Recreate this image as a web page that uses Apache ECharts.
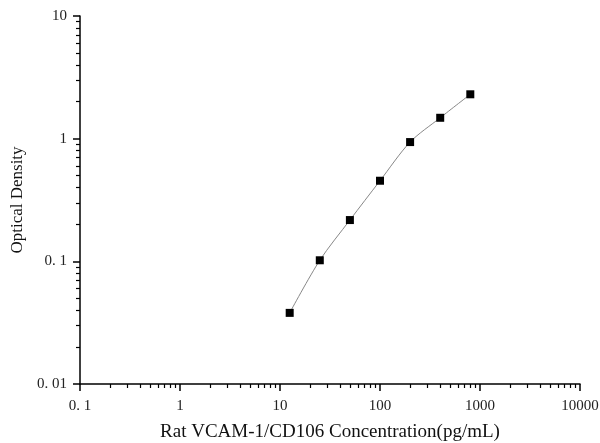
<!DOCTYPE html>
<html>
<head>
<meta charset="utf-8">
<script src="https://cdn.jsdelivr.net/npm/echarts@6/dist/echarts.min.js"></script>
<style>html,body{margin:0;padding:0;background:#fff}#c{width:600px;height:443px}</style>
</head>
<body>
<div id="c"></div>
<script>
var concentrations = [12.5, 25, 50, 100, 200, 400, 800];
var odValues = [0.038, 0.102, 0.217, 0.454, 0.938, 1.48, 2.30];
var xMajorTicks = [0.1, 1, 10, 100, 1000, 10000];
var xTickLabels = ['0. 1', '1', '10', '100', '1000', '10000'];
var yMajorTicks = [0.01, 0.1, 1, 10];
var yTickLabels = ['0. 01', '0. 1', '1', '10'];
var mantissas = [2, 3, 4, 5, 6, 7, 8, 9];

function minorTicks(majors) {
  var out = [];
  for (var i = 0; i < majors.length - 1; i++) {
    for (var j = 0; j < mantissas.length; j++) out.push(majors[i] * mantissas[j]);
  }
  return out;
}
function labelFor(values, labels) {
  return function (v) {
    for (var i = 0; i < values.length; i++) {
      if (Math.abs(Math.log10(v) - Math.log10(values[i])) < 1e-6) return labels[i];
    }
    return '';
  };
}

var font = 'Liberation Serif';
var chart = echarts.init(document.getElementById('c'));
var axisCommon = {
  type: 'log', logBase: 10,
  splitLine: { show: false },
  axisLine: { show: true, onZero: false, lineStyle: { color: '#000', width: 1.5 } }
};
chart.setOption({
  animation: false,
  backgroundColor: '#fff',
  grid: { left: 80, right: 20, top: 16, bottom: 59, containLabel: false, outerBoundsMode: 'none' },
  xAxis: [
    Object.assign({}, axisCommon, {
      position: 'bottom',
      min: 0.1, max: 10000,
      name: 'Rat VCAM-1/CD106 Concentration(pg/mL)',
      nameLocation: 'middle', nameGap: 39,
      nameTextStyle: { fontFamily: font, fontSize: 19, color: '#111' },
      axisTick: { show: true, length: 7, lineStyle: { color: '#000', width: 1.5 }, customValues: xMajorTicks },
      axisLabel: { fontFamily: font, fontSize: 15, color: '#222', margin: 15,
        customValues: xMajorTicks, formatter: labelFor(xMajorTicks, xTickLabels) }
    }),
    Object.assign({}, axisCommon, {
      position: 'bottom',
      min: 0.1, max: 10000,
      axisLine: { show: false },
      axisTick: { show: true, length: 4, lineStyle: { color: '#000', width: 1.2 }, customValues: minorTicks(xMajorTicks) },
      axisLabel: { show: false }
    })
  ],
  yAxis: [
    Object.assign({}, axisCommon, {
      position: 'left',
      min: 0.01, max: 10,
      name: 'Optical Density',
      nameLocation: 'middle', nameGap: 49,
      nameTextStyle: { fontFamily: font, fontSize: 17, color: '#111' },
      axisTick: { show: true, length: 7, lineStyle: { color: '#000', width: 1.5 }, customValues: yMajorTicks },
      axisLabel: { fontFamily: font, fontSize: 15, color: '#222', margin: 13,
        customValues: yMajorTicks, formatter: labelFor(yMajorTicks, yTickLabels) }
    }),
    Object.assign({}, axisCommon, {
      position: 'left',
      min: 0.01, max: 10,
      axisLine: { show: false },
      axisTick: { show: true, length: 4, lineStyle: { color: '#000', width: 1.2 }, customValues: minorTicks(yMajorTicks) },
      axisLabel: { show: false }
    })
  ],
  series: [{
    type: 'line',
    xAxisIndex: 0, yAxisIndex: 0,
    data: concentrations.map(function (c, i) { return [c, odValues[i]]; }),
    smooth: 0.3,
    symbol: 'rect', symbolSize: 8,
    itemStyle: { color: '#000' },
    lineStyle: { color: '#888', width: 1 }
  }]
});
</script>
</body>
</html>
